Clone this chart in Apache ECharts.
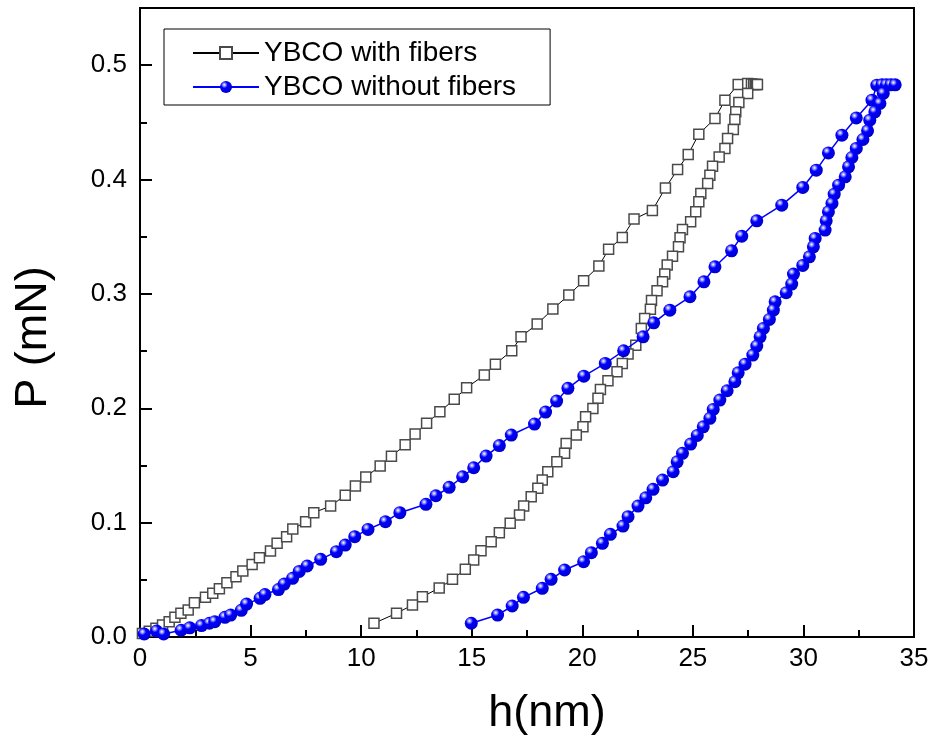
<!DOCTYPE html>
<html>
<head>
<meta charset="utf-8">
<script src="https://cdn.jsdelivr.net/npm/echarts@6/dist/echarts.min.js"></script>
<style>html,body{margin:0;padding:0;background:#fff;}#c{width:934px;height:742px;}</style>
</head>
<body>
<div id="c"></div>
<script>
const seriesNames = ['YBCO with fibers', 'YBCO without fibers'];
const xTicks = [0, 5, 10, 15, 20, 25, 30, 35];
const yTicks = [0.0, 0.1, 0.2, 0.3, 0.4, 0.5];

// YBCO with fibers: loading, hold, unloading
const withH = [0.11,0.42,0.72,1.02,1.32,1.58,1.85,2.18,2.46,2.96,3.29,3.59,3.93,4.34,4.65,5.07,5.40,5.90,6.20,6.63,6.91,7.49,7.86,8.62,9.28,9.74,10.21,10.86,11.37,11.99,12.44,12.96,13.56,14.21,14.77,15.57,16.07,16.81,17.23,17.96,18.67,19.39,20.06,20.75,21.19,21.81,22.34,23.17,23.76,24.31,24.79,25.27,26.0,26.45,27.05,27.48,27.65,27.75,27.82,27.88,27.92,
  27.48,27.08,26.94,26.90,26.83,26.57,26.45,26.19,25.89,25.77,25.67,25.36,25.27,25.13,24.90,24.53,24.42,24.35,24.08,23.84,23.73,23.63,23.38,23.13,23.08,22.82,22.67,22.42,22.07,21.81,21.57,21.16,20.82,20.71,20.48,20.15,20.03,19.73,19.27,19.20,18.85,18.44,18.19,17.99,17.69,17.35,17.16,16.74,16.25,15.88,15.42,15.09,14.71,14.13,13.53,12.77,12.32,11.60,10.58];
const withP = [0.003,0.005,0.0076,0.0105,0.0134,0.0172,0.0207,0.0236,0.030,0.0347,0.0382,0.0422,0.0475,0.0527,0.0577,0.0635,0.0693,0.0752,0.0819,0.0877,0.0944,0.1008,0.1087,0.1145,0.124,0.132,0.140,0.1495,0.158,0.168,0.1774,0.1868,0.197,0.2078,0.218,0.229,0.2386,0.2503,0.2625,0.2736,0.2867,0.299,0.3115,0.3243,0.339,0.3494,0.3654,0.373,0.3927,0.4088,0.422,0.4397,0.4534,0.4694,0.4831,0.484,0.4835,0.4832,0.4832,0.4832,0.4832,
  0.4753,0.4674,0.4592,0.4525,0.4438,0.4359,0.4272,0.4198,0.4117,0.4038,0.3966,0.3878,0.3805,0.3718,0.363,0.3564,0.349,0.3412,0.333,0.3252,0.3173,0.3106,0.3027,0.2943,0.2865,0.2786,0.2698,0.2552,0.2474,0.2392,0.2319,0.224,0.2165,0.2087,0.1999,0.1926,0.1838,0.1766,0.1693,0.1606,0.1532,0.1445,0.1372,0.13,0.1226,0.1145,0.1066,0.0994,0.0912,0.0833,0.0754,0.0673,0.0592,0.0504,0.0428,0.0352,0.028,0.0207,0.012];

// YBCO without fibers: loading, hold, unloading
const woH = [0.19,0.75,1.07,1.86,2.25,2.78,3.14,3.38,3.84,4.10,4.58,4.82,5.43,5.65,6.26,6.52,6.90,7.20,7.56,8.17,8.88,9.28,9.71,10.31,11.10,11.75,12.93,13.38,13.98,14.59,15.09,15.65,16.25,16.79,17.84,18.34,18.84,19.35,20.07,21.04,21.87,22.75,23.23,23.96,24.87,25.50,26.0,26.75,27.21,27.89,29.02,29.97,30.58,31.13,31.74,32.39,33.10,33.32,33.55,33.75,33.95,34.15,
  33.61,33.46,33.23,33.0,32.90,32.69,32.39,32.19,32.04,31.89,31.59,31.39,31.29,31.13,31.03,30.98,30.53,30.45,30.27,29.97,29.55,29.47,29.22,28.72,28.64,28.46,28.19,28.04,27.89,27.71,27.36,27.05,26.90,26.55,26.22,25.92,25.77,25.47,25.20,24.90,24.53,24.29,24.11,23.63,23.20,22.87,22.52,22.07,21.84,21.27,20.91,20.41,20.06,19.20,18.59,18.19,17.34,16.83,16.17,14.98];
const woP = [0.0026,0.0052,0.0026,0.0059,0.008,0.010,0.012,0.0134,0.0172,0.0192,0.0233,0.0288,0.0338,0.0371,0.0415,0.0463,0.0513,0.0573,0.0621,0.0679,0.0746,0.0804,0.0877,0.0941,0.1008,0.1087,0.116,0.1235,0.1309,0.1401,0.148,0.1582,0.1674,0.1766,0.1862,0.1967,0.2063,0.2174,0.2281,0.2392,0.2503,0.2625,0.2747,0.2858,0.2975,0.3106,0.3237,0.3377,0.3505,0.3639,0.3776,0.3931,0.4082,0.4233,0.4388,0.4539,0.4694,0.4825,0.4828,0.4828,0.4828,0.4828,
  0.4753,0.4665,0.4592,0.4519,0.4426,0.435,0.4272,0.4193,0.4111,0.4024,0.3951,0.3872,0.3791,0.3718,0.3639,0.3558,0.3485,0.3412,0.3324,0.3249,0.3173,0.3086,0.301,0.2931,0.2858,0.2777,0.2698,0.2625,0.2544,0.2465,0.2386,0.231,0.2232,0.2153,0.2072,0.199,0.1912,0.1838,0.1763,0.1687,0.1606,0.1532,0.1445,0.1372,0.1291,0.1217,0.1145,0.1052,0.097,0.0898,0.0819,0.0737,0.0658,0.0586,0.0504,0.0426,0.0347,0.0271,0.0192,0.012];

const zip = (a, b) => a.map((v, i) => [v, b[i]]);
const FONT = 'Arial, "Liberation Sans", sans-serif';

const chart = echarts.init(document.getElementById('c'), null, {renderer: 'canvas'});
const ball = {
  type: 'radial', x: 0.36, y: 0.32, r: 0.72,
  colorStops: [
    {offset: 0, color: '#ffffff'},
    {offset: 0.16, color: '#9a9aff'},
    {offset: 0.38, color: '#0000ff'},
    {offset: 1, color: '#0000c8'}
  ]
};
chart.setOption({
  animation: false,
  backgroundColor: '#fff',
  grid: {left: 140, right: 20, top: 8, bottom: 105, show: true, borderColor: '#000', borderWidth: 2, backgroundColor: 'transparent'},
  legend: {
    orient: 'vertical', left: 164, top: 29,
    padding: [10, 34, 4, 28], itemGap: 6,
    itemWidth: 66, itemHeight: 15,
    borderColor: '#000', borderWidth: 1,
    textStyle: {fontFamily: FONT, fontSize: 28, color: '#000', lineHeight: 28},
    data: seriesNames
  },
  xAxis: {
    type: 'value', min: xTicks[0], max: xTicks[xTicks.length - 1], interval: 5,
    name: 'h(nm)', nameLocation: 'middle', nameGap: 54,
    nameTextStyle: {fontFamily: FONT, fontSize: 45, color: '#000', padding: [0, 0, 0, 40]},
    axisLine: {lineStyle: {color: '#000', width: 2}},
    axisTick: {inside: true, length: 12, lineStyle: {color: '#000', width: 2}},
    minorTick: {show: true, splitNumber: 2, length: 7, lineStyle: {color: '#000', width: 2}},
    axisLabel: {fontFamily: FONT, fontSize: 26, color: '#000', margin: 9},
    splitLine: {show: false}
  },
  yAxis: {
    type: 'value', min: 0, max: 0.55, interval: 0.1,
    name: 'P (mN)', nameLocation: 'middle', nameGap: 84,
    nameTextStyle: {fontFamily: FONT, fontSize: 45, color: '#000', padding: [0, 30, 0, 0]},
    axisLine: {lineStyle: {color: '#000', width: 2}},
    axisTick: {inside: true, length: 12, lineStyle: {color: '#000', width: 2}},
    minorTick: {show: true, splitNumber: 2, length: 7, lineStyle: {color: '#000', width: 2}},
    axisLabel: {fontFamily: FONT, fontSize: 26, color: '#000', margin: 13,
      formatter: v => (yTicks.some(t => Math.abs(t - v) < 1e-9) ? v.toFixed(1) : '')},
    splitLine: {show: false}
  },
  series: [
    {
      name: seriesNames[0], type: 'line', data: zip(withH, withP),
      symbol: 'rect', symbolSize: 10, showAllSymbol: true,
      lineStyle: {color: '#000', width: 1},
      itemStyle: {color: '#fff', borderColor: '#4a4a4a', borderWidth: 1.5},
      z: 2
    },
    {
      name: seriesNames[1], type: 'line', data: zip(woH, woP),
      symbol: 'circle', symbolSize: 13, showAllSymbol: true,
      lineStyle: {color: '#0000ff', width: 1.5},
      itemStyle: {color: ball, borderWidth: 0},
      z: 3
    }
  ]
});
</script>
</body>
</html>
